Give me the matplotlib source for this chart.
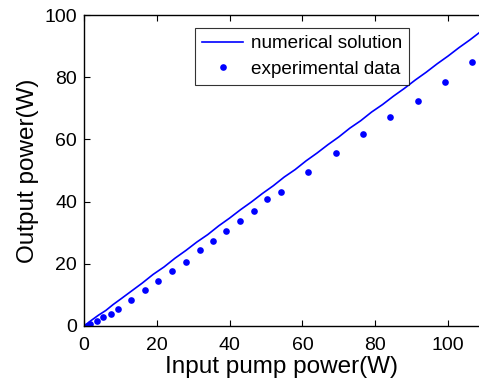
import matplotlib
matplotlib.use("Agg")
import matplotlib.pyplot as plt

plt.rcParams['font.family'] = ['Liberation Sans', 'DejaVu Sans']

# numerical solution (slightly wavy simulated curve)
sim_pump = [0, 2, 4, 6, 8, 10, 13, 16, 19, 22, 25, 28, 31, 34, 37, 40, 43, 46,
            49, 52, 55, 58, 61, 64, 67, 70, 73, 76, 79, 82, 85, 88, 91, 94,
            97, 100, 103, 106, 109]
sim_out = [0, 1.8, 3.5, 5.0, 6.9, 8.6, 11.2, 13.8, 16.6, 19.0, 21.8, 24.3,
           27.0, 29.4, 32.2, 34.7, 37.4, 39.9, 42.6, 45.1, 47.9, 50.3, 53.1,
           55.6, 58.3, 60.8, 63.6, 66.0, 68.8, 71.2, 73.9, 76.4, 79.1, 81.6,
           84.3, 86.8, 89.5, 92.0, 94.7]

# experimental data
exp_pump = [0.7, 1.6, 3.7, 5.3, 7.3, 9.4, 12.9, 16.8, 20.4, 24.3, 27.9, 31.8,
            35.4, 39.0, 42.9, 46.6, 50.4, 54.0, 61.6, 69.1, 76.6, 84.1, 91.7,
            99.2, 106.7]
exp_out = [0.0, 0.5, 1.7, 2.8, 4.0, 5.6, 8.4, 11.6, 14.6, 17.7, 20.7, 24.3,
           27.3, 30.6, 33.7, 37.0, 40.7, 43.2, 49.5, 55.5, 61.6, 67.1, 72.2,
           78.5, 84.9]

fig = plt.figure(figsize=(4.79, 3.8), dpi=100)
ax = fig.add_axes([84/479, 54/380, 395/479, 311/380])

ax.plot(sim_pump, sim_out, color='#0000ff', lw=1.2, label='numerical solution')
ax.plot(exp_pump, exp_out, 'o', color='#0000ff', ms=4.8, mew=0,
        label='experimental data')

ax.set_xlim(0, 108.5)
ax.set_ylim(0, 100)
ax.set_xticks([0, 20, 40, 60, 80, 100])
ax.set_yticks([0, 20, 40, 60, 80, 100])
ax.tick_params(direction='in', length=4, width=0.8, labelsize=14,
               top=True, right=False)
ax.tick_params(axis='x', pad=8)
ax.tick_params(axis='y', pad=5)
ax.spines['right'].set_visible(False)
for s in ['left', 'bottom', 'top']:
    ax.spines[s].set_linewidth(1.0)

ax.set_xlabel('Input pump power(W)', fontsize=17.5, labelpad=1)
ax.set_ylabel('Output power(W)', fontsize=17.5, labelpad=4)

leg = ax.legend(loc='upper left', bbox_to_anchor=(0.28, 0.958), fontsize=13.6,
                frameon=True, fancybox=False, edgecolor='black',
                handlelength=2.2, handletextpad=0.4, borderpad=0.38,
                labelspacing=0.42, borderaxespad=0, numpoints=1)
leg.get_frame().set_linewidth(0.8)

fig.savefig('out.png', dpi=100)
